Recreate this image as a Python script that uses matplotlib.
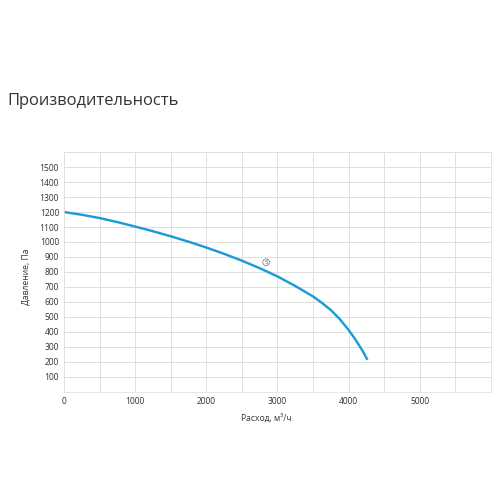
import numpy as np
import matplotlib
matplotlib.use("Agg")
from matplotlib import pyplot as plt

# curve (flow m3/h, pressure Pa)
flow = [0, 250, 500, 750, 1000, 1250, 1500, 1750, 2000, 2250, 2500, 2750,
        3000, 3250, 3500, 3625, 3750, 3875, 4000, 4100, 4200, 4265]
pressure = [1200, 1182, 1160, 1133, 1103, 1072, 1038, 1002, 963, 921, 875, 825,
            770, 706, 636, 593, 545, 485, 412, 345, 270, 212]

x_ticks = [0, 1000, 2000, 3000, 4000, 5000]
y_ticks = [100, 200, 300, 400, 500, 600, 700, 800, 900, 1000, 1100, 1200, 1300, 1400, 1500]
label_pos = (2840, 865)
label_text = "5"

plt.rcParams['font.family'] = ['Open Sans', 'DejaVu Sans']

fig = plt.figure(figsize=(7, 7), dpi=72)
ax = fig.add_axes([0.127, 0.223, 0.847, 0.475])

ax.plot(flow, pressure, color='#1a9bd7', linewidth=2.4, solid_capstyle='butt',
        solid_joinstyle='round')

ax.set_xlim(0, 6000)
ax.set_ylim(0, 1600)
ax.set_xticks(np.arange(0, 6001, 500))
ax.set_xticklabels([str(v) if v in x_ticks else '' for v in np.arange(0, 6001, 500)])
ax.set_yticks(np.arange(0, 1601, 100))
ax.set_yticklabels([str(v) if v in y_ticks else '' for v in np.arange(0, 1601, 100)])
ax.grid(True, color='#e0e0e0', linewidth=1)
ax.tick_params(length=0, labelsize=8.5, colors='#333333', pad=5)
for s in ax.spines.values():
    s.set_color('#e0e0e0')

ax.text(label_pos[0], label_pos[1], label_text, fontsize=5.5, ha='center', va='center',
        color='#444444', bbox=dict(boxstyle='circle,pad=0.15', fc='white', ec='#555555', lw=0.6))

ax.set_xlabel("Расход, м³/ч", fontsize=8.5, color='#333333')
ax.xaxis.set_label_coords(0.473, -0.09)
ax.set_ylabel("Давление, Па", fontsize=8.5, color='#333333')
ax.yaxis.set_label_coords(-0.078, 0.48)

fig.text(0.014, 0.8, "Производительность", fontsize=16.5, color='#333333', va='center', ha='left')

fig.savefig("out.png", dpi=72, facecolor='white')
